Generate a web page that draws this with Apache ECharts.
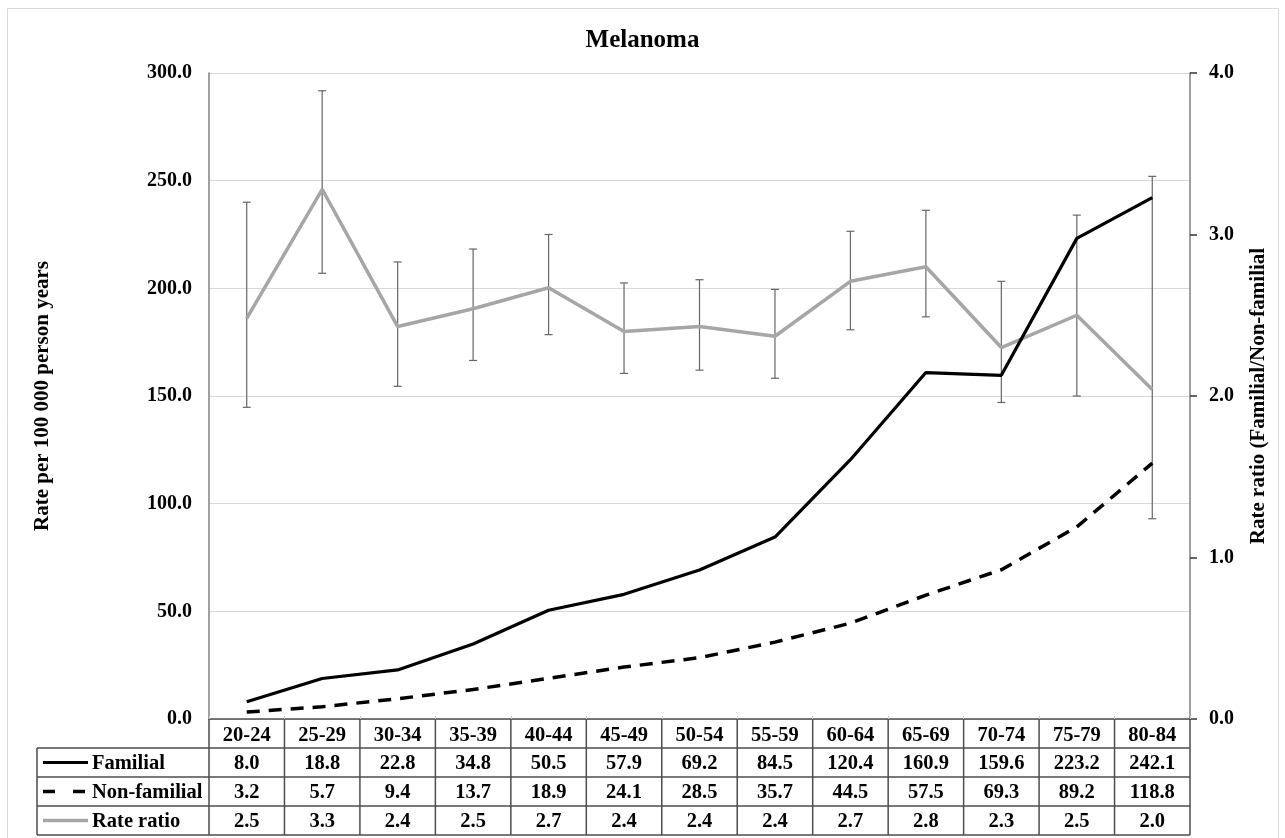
<!DOCTYPE html>
<html>
<head>
<meta charset="utf-8">
<title>Melanoma</title>
<script src="https://cdn.jsdelivr.net/npm/echarts@6/dist/echarts.min.js"></script>
<style>
  html, body { margin: 0; padding: 0; background: #ffffff; }
  #chart { width: 1285px; height: 838px; }
</style>
</head>
<body>
<div id="chart"></div>
<script>
// Age groups and incidence rates (per 100 000 person years)
const ageGroups = ['20-24', '25-29', '30-34', '35-39', '40-44', '45-49', '50-54',
                   '55-59', '60-64', '65-69', '70-74', '75-79', '80-84'];
const familial = [8.0, 18.8, 22.8, 34.8, 50.5, 57.9, 69.2, 84.5, 120.4, 160.9, 159.6, 223.2, 242.1];
const nonFamilial = [3.2, 5.7, 9.4, 13.7, 18.9, 24.1, 28.5, 35.7, 44.5, 57.5, 69.3, 89.2, 118.8];
// Rate ratio (familial / non-familial) with 95% confidence limits
const rateRatio = [2.48, 3.28, 2.43, 2.54, 2.67, 2.40, 2.43, 2.37, 2.71, 2.80, 2.30, 2.50, 2.04];
const ratioLow = [1.93, 2.76, 2.06, 2.22, 2.38, 2.14, 2.16, 2.11, 2.41, 2.49, 1.96, 2.00, 1.24];
const ratioHigh = [3.20, 3.89, 2.83, 2.91, 3.00, 2.70, 2.72, 2.66, 3.02, 3.15, 2.71, 3.12, 3.36];
// Table row labels
const rowLabels = ['Familial', 'Non-familial', 'Rate ratio'];

const FONT = '"Liberation Serif", "Times New Roman", serif';
const GRID_COLOR = '#d9d9d9';
const AXIS_COLOR = '#808080';
const TABLE_COLOR = '#4d4d4d';
const RATIO_COLOR = '#a6a6a6';
const TABLE_FONT = 20.5;

const chart = echarts.init(document.getElementById('chart'), null, { renderer: 'canvas' });

const option = {
  backgroundColor: '#ffffff',
  animation: false,
  title: {
    text: 'Melanoma',
    left: 'center',
    top: 23,
    textStyle: { fontFamily: FONT, fontWeight: 'bold', fontSize: 25, color: '#000' }
  },
  grid: { left: 209, top: 73, width: 981, height: 646, containLabel: false },
  xAxis: {
    type: 'category',
    data: ageGroups,
    boundaryGap: true,
    axisLine: { show: true, lineStyle: { color: TABLE_COLOR, width: 1.5 } },
    axisTick: { show: true, inside: true, length: 3, lineStyle: { color: '#cccccc' } },
    axisLabel: { fontFamily: FONT, fontWeight: 'bold', fontSize: TABLE_FONT, color: '#000', margin: 6 },
    splitLine: { show: false }
  },
  yAxis: [
    {
      type: 'value',
      min: 0, max: 300, interval: 50,
      name: 'Rate per 100 000 person years',
      nameLocation: 'middle',
      nameRotate: 90,
      nameGap: 156,
      nameTextStyle: { fontFamily: FONT, fontWeight: 'bold', fontSize: 21, color: '#000' },
      axisLine: { show: true, lineStyle: { color: AXIS_COLOR, width: 1.5 } },
      axisTick: { show: false },
      axisLabel: {
        fontFamily: FONT, fontWeight: 'bold', fontSize: 20, color: '#000', margin: 17,
        formatter: v => v.toFixed(1)
      },
      splitLine: { show: true, lineStyle: { color: GRID_COLOR, width: 1 } }
    },
    {
      type: 'value',
      position: 'right',
      min: 0, max: 4, interval: 1,
      name: 'Rate ratio (Familial/Non-familial',
      nameLocation: 'middle',
      nameRotate: 90,
      nameGap: 58,
      nameTextStyle: { fontFamily: FONT, fontWeight: 'bold', fontSize: 21, color: '#000' },
      axisLine: { show: true, lineStyle: { color: AXIS_COLOR, width: 1.5 } },
      axisTick: { show: true, inside: false, length: 7, lineStyle: { color: '#333', width: 1.5 } },
      axisLabel: {
        fontFamily: FONT, fontWeight: 'bold', fontSize: 20, color: '#000', margin: 19,
        formatter: v => v.toFixed(1)
      },
      splitLine: { show: false }
    }
  ],
  series: [
    {
      name: 'CI',
      type: 'custom',
      yAxisIndex: 1,
      data: ageGroups.map((g, i) => [i, ratioLow[i], ratioHigh[i]]),
      encode: { x: 0, y: [1, 2] },
      renderItem: function (params, api) {
        const i = api.value(0);
        const lo = api.coord([i, api.value(1)]);
        const hi = api.coord([i, api.value(2)]);
        const cap = 4;
        const style = { stroke: '#666666', lineWidth: 1.2 };
        return {
          type: 'group',
          children: [
            { type: 'line', shape: { x1: lo[0], y1: lo[1], x2: hi[0], y2: hi[1] }, style },
            { type: 'line', shape: { x1: hi[0] - cap, y1: hi[1], x2: hi[0] + cap, y2: hi[1] }, style },
            { type: 'line', shape: { x1: lo[0] - cap, y1: lo[1], x2: lo[0] + cap, y2: lo[1] }, style }
          ]
        };
      },
      z: 2
    },
    {
      name: 'Rate ratio',
      type: 'line',
      yAxisIndex: 1,
      data: rateRatio,
      showSymbol: false,
      lineStyle: { color: RATIO_COLOR, width: 3.5 },
      itemStyle: { color: RATIO_COLOR },
      z: 3
    },
    {
      name: 'Non-familial',
      type: 'line',
      yAxisIndex: 0,
      data: nonFamilial,
      showSymbol: false,
      lineStyle: { color: '#000', width: 3.5, type: [13, 9] },
      itemStyle: { color: '#000' },
      z: 4
    },
    {
      name: 'Familial',
      type: 'line',
      yAxisIndex: 0,
      data: familial,
      showSymbol: false,
      lineStyle: { color: '#000', width: 3.2 },
      itemStyle: { color: '#000' },
      z: 5
    }
  ]
};

chart.setOption(option);

// Data table under the x axis, aligned to the category bands
function buildTable() {
  const n = ageGroups.length;
  const c0 = chart.convertToPixel({ xAxisIndex: 0 }, 0);
  const c1 = chart.convertToPixel({ xAxisIndex: 0 }, 1);
  const band = c1 - c0;
  const left = c0 - band / 2;
  const right = left + band * n;
  const yBase = chart.convertToPixel({ yAxisIndex: 0 }, 0);
  const rowH = 29;
  const tableLeft = 37;
  const border = { stroke: TABLE_COLOR, lineWidth: 1.5 };
  const els = [];

  // outer frame of the figure
  els.push({
    type: 'rect', silent: true,
    shape: { x: 7.5, y: 8.5, width: 1271, height: 850 },
    style: { fill: 'none', stroke: GRID_COLOR, lineWidth: 1 }
  });

  // horizontal rules
  for (let r = 1; r <= 4; r++) {
    const y = yBase + rowH * r;
    els.push({ type: 'line', silent: true, shape: { x1: tableLeft, y1: y, x2: right, y2: y }, style: border });
  }
  // vertical rules
  els.push({ type: 'line', silent: true,
    shape: { x1: tableLeft, y1: yBase + rowH, x2: tableLeft, y2: yBase + rowH * 4 }, style: border });
  for (let k = 0; k <= n; k++) {
    const x = left + band * k;
    els.push({ type: 'line', silent: true,
      shape: { x1: x, y1: yBase, x2: x, y2: yBase + rowH * 4 }, style: border });
  }

  // values
  const rows = [
    familial.map(v => v.toFixed(1)),
    nonFamilial.map(v => v.toFixed(1)),
    rateRatio.map(v => v.toFixed(1))
  ];
  rows.forEach((vals, r) => {
    const cy = yBase + rowH * (r + 1.5) + 1;
    vals.forEach((txt, i) => {
      els.push({
        type: 'text', silent: true,
        x: c0 + band * i, y: cy,
        style: {
          text: txt, fontFamily: FONT, fontWeight: 'bold', fontSize: TABLE_FONT, fill: '#000',
          align: 'center', verticalAlign: 'middle'
        }
      });
    });
  });

  // legend keys and row labels
  const keyX1 = 43, keyX2 = 88;
  const keyStyles = [
    { stroke: '#000', lineWidth: 3.2 },
    { stroke: '#000', lineWidth: 3.5, lineDash: [12, 18] },
    { stroke: RATIO_COLOR, lineWidth: 3.5 }
  ];
  rowLabels.forEach((label, r) => {
    const cy = yBase + rowH * (r + 1.5);
    els.push({ type: 'line', silent: true,
      shape: { x1: keyX1, y1: cy, x2: keyX2, y2: cy }, style: keyStyles[r] });
    els.push({
      type: 'text', silent: true,
      x: 92, y: cy + 1,
      style: {
        text: label, fontFamily: FONT, fontWeight: 'bold', fontSize: TABLE_FONT, fill: '#000',
        align: 'left', verticalAlign: 'middle'
      }
    });
  });

  chart.setOption({ graphic: { elements: els } });
}

buildTable();
</script>
</body>
</html>
